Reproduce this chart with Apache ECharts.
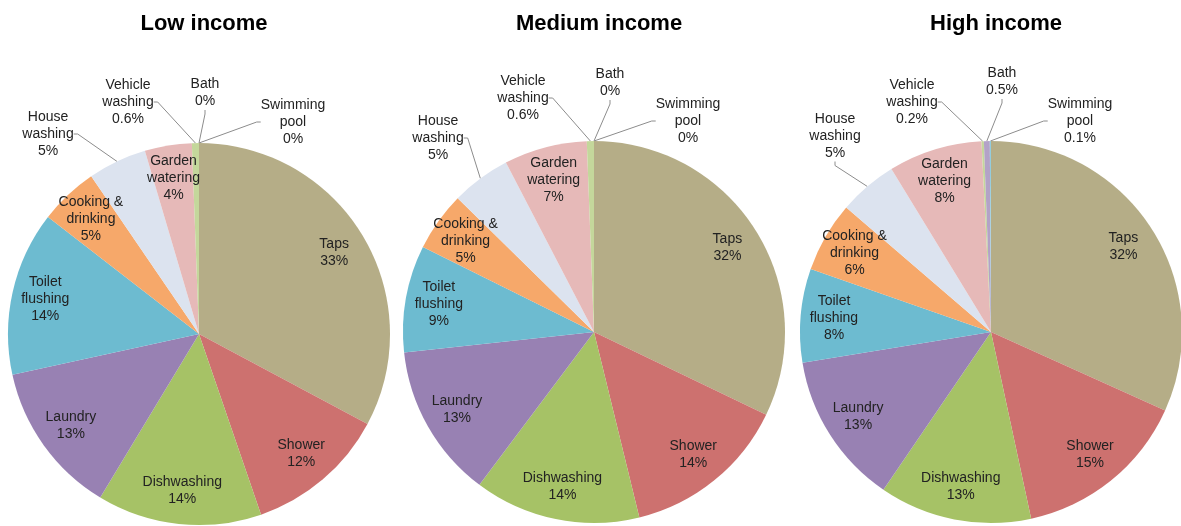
<!DOCTYPE html>
<html>
<head>
<meta charset="utf-8">
<script src="https://cdn.jsdelivr.net/npm/echarts@6/dist/echarts.min.js"></script>
<style>
  html, body { margin: 0; padding: 0; background: #fff; }
  #chart { width: 1181px; height: 526px; }
</style>
</head>
<body>
<div id="chart"></div>
<script>
// data (percent of household water use)
const categories = ['Taps', 'Shower', 'Dishwashing', 'Laundry', 'Toilet flushing', 'Cooking & drinking',
  'House washing', 'Garden watering', 'Vehicle washing', 'Bath', 'Swimming pool'];
const lowIncome = [33, 12, 14, 13, 14, 5, 5, 4, 0.6, 0, 0];
const mediumIncome = [32, 14, 14, 13, 9, 5, 5, 7, 0.6, 0, 0];
const highIncome = [32, 15, 13, 13, 8, 6, 5, 8, 0.2, 0.5, 0.1];
const titles = ['Low income', 'Medium income', 'High income'];

const colors = ['#B5AD87', '#CD716F', '#A6C266', '#9881B3', '#6DBBD0', '#F6A86A',
  '#DCE3EF', '#E6B9B8', '#C4D79B', '#B3A2C7', '#93CDDD'];

const pies = [
  { cx: 199, cy: 334, values: lowIncome },
  { cx: 594, cy: 332, values: mediumIncome },
  { cx: 991, cy: 332, values: highIncome }
];
const radius = 191;

// where the small slices put their callouts (label centre)
const callouts = [
  { 6: [48, 134], 8: [128, 102], 9: [205, 93], 10: [293, 122] },
  { 6: [438, 138], 8: [523, 98], 9: [610, 83], 10: [688, 121] },
  { 6: [835, 136], 8: [912, 102], 9: [1002, 82], 10: [1080, 121] }
];

const chart = echarts.init(document.getElementById('chart'), null, { renderer: 'canvas' });

const labelFont = { color: '#222', fontSize: 14, lineHeight: 17, fontFamily: 'Liberation Sans, Arial, sans-serif' };

const option = {
  animation: false,
  color: colors,
  title: titles.map((t, i) => ({
    text: t,
    left: pies[i].cx,
    top: 8,
    textAlign: 'center',
    textStyle: { fontSize: 22, fontWeight: 'bold', color: '#000', fontFamily: 'Liberation Sans Narrow, Liberation Sans, Arial' }
  })),
  series: pies.map((p, si) => ({
    type: 'pie',
    center: [p.cx, p.cy],
    radius: radius,
    startAngle: 90,
    clockwise: true,
    avoidLabelOverlap: false,
    itemStyle: { borderWidth: 0 },
    label: Object.assign({
      show: true,
      position: 'inside',
      formatter: (d) => d.name.replace(/ (?=\S+$)/, '\n') + '\n' + d.value + '%'
    }, labelFont),
    labelLine: { show: false, length: 8, length2: 4, lineStyle: { color: '#8c8c8c', width: 1 } },
    emphasis: { disabled: true },
    data: categories.map((c, i) => {
      const item = { name: c, value: p.values[i] };
      if (callouts[si][i]) {
        item.label = { position: 'outside' };
        item.labelLine = { show: true };
      }
      return item;
    }),
    labelLayout: (params) => {
      const a = callouts[si][params.dataIndex];
      if (a) return { x: a[0], y: a[1], align: 'center', verticalAlign: 'middle' };
      const r = params.labelRect;
      const lx = r.x + r.width / 2, ly = r.y + r.height / 2;
      return { x: p.cx + (lx - p.cx) * 1.6, y: p.cy + (ly - p.cy) * 1.6, align: 'center', verticalAlign: 'middle' };
    }
  }))
};

chart.setOption(option);
window.addEventListener('resize', () => chart.resize());
</script>
</body>
</html>
